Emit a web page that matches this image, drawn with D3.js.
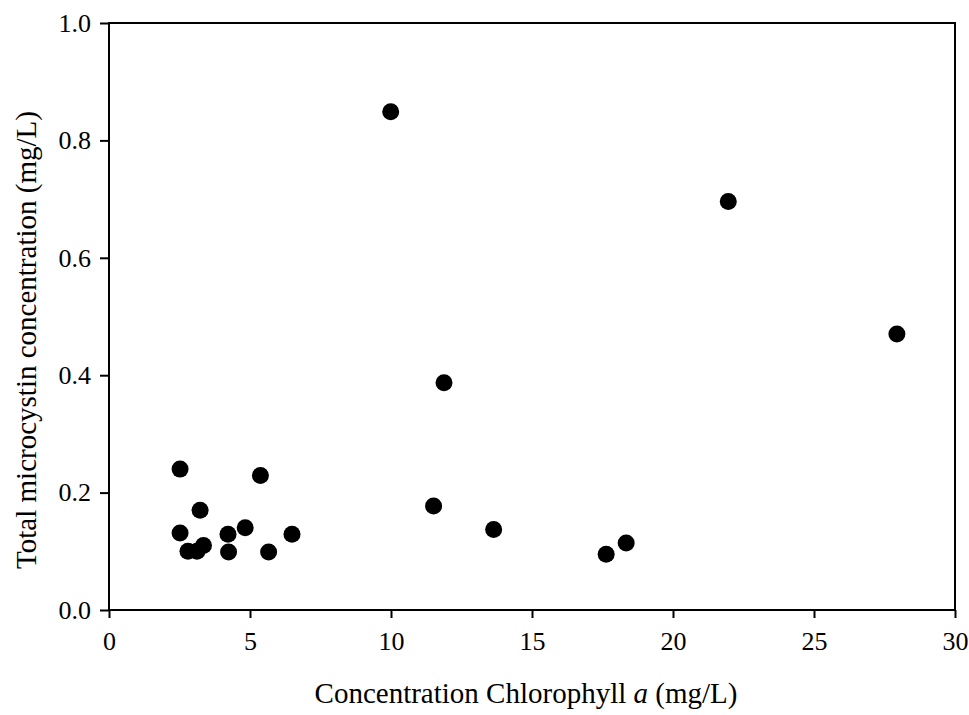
<!DOCTYPE html>
<html>
<head>
<meta charset="utf-8">
<script src="https://cdn.jsdelivr.net/npm/d3@7"></script>
<style>
  body { margin: 0; background: #fff; }
  svg { display: block; font-family: "Liberation Serif", "Times New Roman", serif; }
  .axis path, .axis line { stroke: #000; stroke-width: 2; }
</style>
</head>
<body>
<script>
var width = 969;
var height = 715;
var margin = {top: 23, right: 14, bottom: 105, left: 109};

// chlorophyll a (mg/L) vs total microcystin (mg/L)
var chlorophyll = [9.99, 21.96, 27.94, 11.88, 11.51, 13.64, 17.63, 18.34,
                   2.52, 5.37, 3.23, 2.52, 4.22, 4.83, 6.49, 3.35, 2.80, 3.12, 4.24, 5.66];
var microcystin = [0.849, 0.696, 0.470, 0.387, 0.177, 0.137, 0.095, 0.114,
                   0.240, 0.229, 0.170, 0.131, 0.129, 0.140, 0.129, 0.110, 0.100, 0.100, 0.099, 0.099];
var xTicks = [0, 5, 10, 15, 20, 25, 30];
var yTicks = [0.0, 0.2, 0.4, 0.6, 0.8, 1.0];

var svg = d3.select("body").append("svg")
    .attr("width", width)
    .attr("height", height);

var x = d3.scaleLinear().domain([0, 30]).range([margin.left, width - margin.right]);
var y = d3.scaleLinear().domain([0, 1]).range([height - margin.bottom, margin.top]);

// frame
svg.append("rect")
    .attr("x", x(0))
    .attr("y", y(1))
    .attr("width", x(30) - x(0))
    .attr("height", y(0) - y(1))
    .style("fill", "none")
    .style("stroke", "#000")
    .style("stroke-width", 2);

var xAxis = svg.append("g")
    .attr("class", "axis")
    .attr("transform", "translate(0," + y(0) + ")")
    .call(d3.axisBottom(x).tickValues(xTicks).tickFormat(d3.format("d"))
      .tickSizeInner(8).tickSizeOuter(0).tickPadding(14));

var yAxis = svg.append("g")
    .attr("class", "axis")
    .attr("transform", "translate(" + x(0) + ",0)")
    .call(d3.axisLeft(y).tickValues(yTicks).tickFormat(d3.format(".1f"))
      .tickSizeInner(9).tickSizeOuter(0).tickPadding(9));

svg.selectAll(".axis .domain").remove();
svg.selectAll(".axis")
    .attr("font-family", "Liberation Serif, Times New Roman, serif")
    .attr("font-size", 26);
svg.selectAll(".axis text").style("fill", "#000");

var points = chlorophyll.map(function (d, i) { return {x: d, y: microcystin[i]}; });

svg.selectAll(".dot")
    .data(points)
  .enter().append("circle")
    .attr("class", "dot")
    .attr("cx", function (d) { return x(d.x); })
    .attr("cy", function (d) { return y(d.y); })
    .attr("r", 8.5)
    .style("fill", "#000");

// axis titles
var xt = svg.append("text")
    .attr("x", (x(0) + x(30)) / 2 - 6)
    .attr("y", 703)
    .attr("text-anchor", "middle")
    .style("font-size", "29px");
xt.append("tspan").text("Concentration Chlorophyll ");
xt.append("tspan").style("font-style", "italic").text("a");
xt.append("tspan").text(" (mg/L)");

svg.append("text")
    .attr("transform", "translate(36,340) rotate(-90)")
    .attr("text-anchor", "middle")
    .style("font-size", "29px")
    .text("Total microcystin concentration (mg/L)");
</script>
</body>
</html>
